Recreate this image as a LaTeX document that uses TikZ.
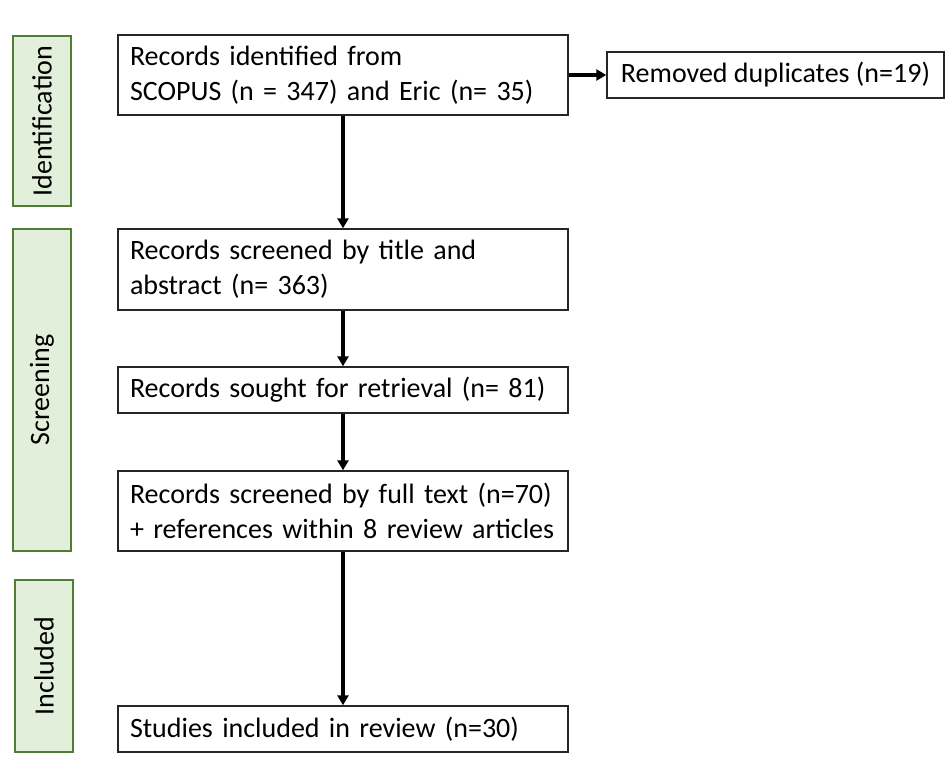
\documentclass[tikz,border=0pt]{standalone}
\usepackage{fontspec}
\setmainfont{Carlito}
\usetikzlibrary{arrows.meta}
\definecolor{phasefill}{HTML}{E2EFDA}
\definecolor{phasedraw}{HTML}{507E32}
\tikzset{
  flowbox/.style={draw=black!85, line width=1.4pt, fill=white, rectangle,
    inner xsep=12pt, inner ysep=0pt, align=left,
    font=\fontsize{28}{35}\selectfont},
  phase/.style={draw=phasedraw, line width=2pt, fill=phasefill, rectangle,
    rotate=90, minimum height=58pt, inner sep=0pt,
    font=\fontsize{28}{35}\selectfont},
  arr/.style={line width=3.2pt, -{Triangle[length=10pt,width=11pt]}}
}
\begin{document}
\begin{tikzpicture}[x=1pt,y=-1pt]
\useasboundingbox (0,0) rectangle (950,776);
% phase bars
\node[phase, minimum width=170pt] (pid) at (42,121) {Identification};
\node[phase, minimum width=322pt] (pscr) at (42,390) {Screening};
\node[phase, minimum width=172pt] (pinc) at (44,666) {Included};
% flow boxes
\node[flowbox, minimum width=450pt, minimum height=80pt, text width=426pt] (ident) at (343,75)
  {Records identified from\\SCOPUS (n = 347) and Eric (n= 35)};
\node[flowbox, minimum width=337pt, minimum height=46pt, align=center] (rem) at (775.5,75)
  {Removed duplicates (n=19)};
\node[flowbox, minimum width=450pt, minimum height=81pt, text width=426pt] (scr) at (343,269.5)
  {Records screened by title and\\abstract (n= 363)};
\node[flowbox, minimum width=450pt, minimum height=46pt, text width=426pt] (sought) at (343,390)
  {Records sought for retrieval (n= 81)};
\node[flowbox, minimum width=450pt, minimum height=80pt, text width=426pt] (full) at (343,511)
  {Records screened by full text (n=70)\\+ references within 8 review articles};
\node[flowbox, minimum width=450pt, minimum height=46pt, text width=426pt] (incl) at (343,729)
  {Studies included in review (n=30)};
% connectors
\draw[arr] (ident) -- (scr);
\draw[arr] (ident) -- (rem);
\draw[arr] (scr) -- (sought);
\draw[arr] (sought) -- (full);
\draw[arr] (full) -- (incl);
\end{tikzpicture}
\end{document}
